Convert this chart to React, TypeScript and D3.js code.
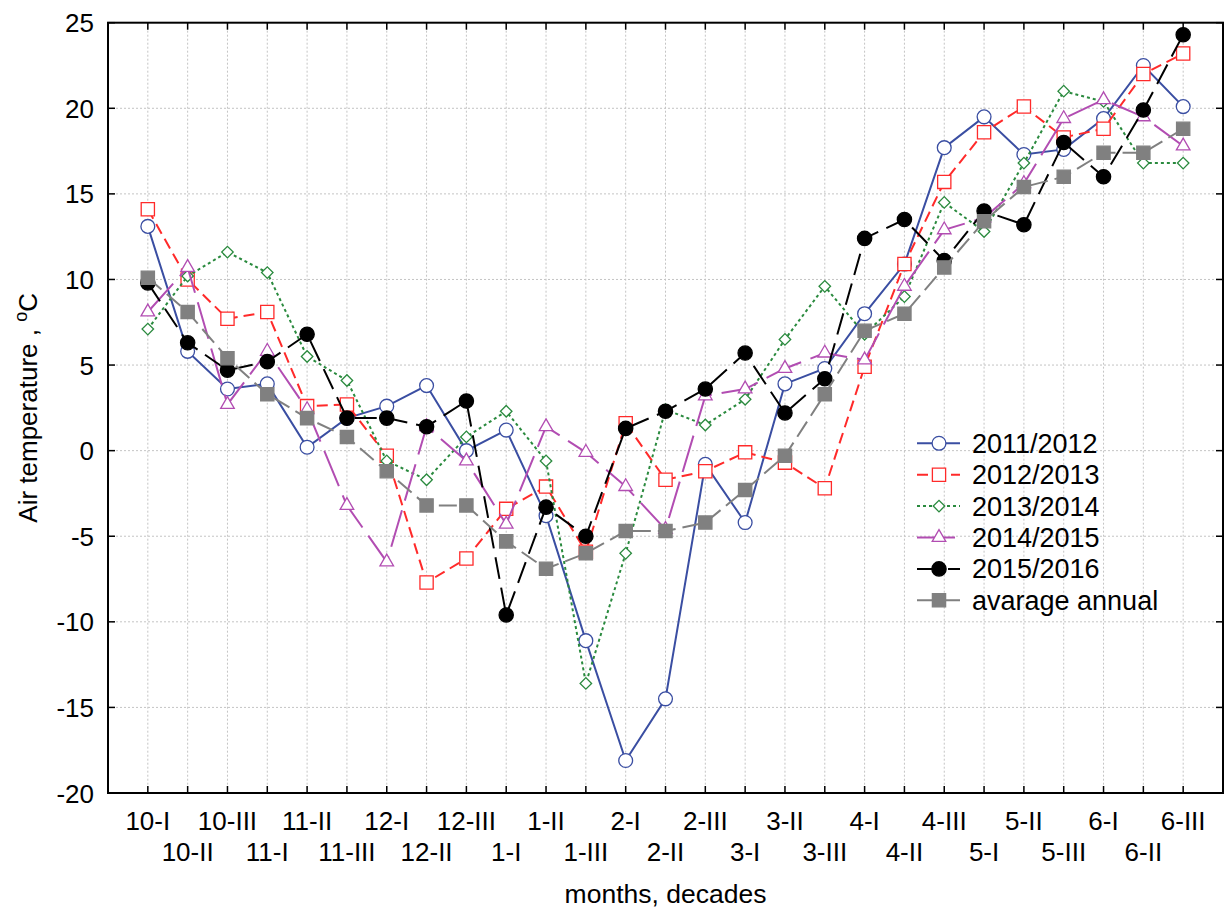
import React, { useEffect, useRef } from 'react';
import * as d3 from 'd3';

const decades = [
    "10-I", "10-II", "10-III", "11-I", "11-II", "11-III", "12-I", "12-II", "12-III",
    "1-I", "1-II", "1-III", "2-I", "2-II", "2-III", "3-I", "3-II", "3-III",
    "4-I", "4-II", "4-III", "5-I", "5-II", "5-III", "6-I", "6-II", "6-III",
];
const yTicks = [-20, -15, -10, -5, 0, 5, 10, 15, 20, 25];

const t2011 = [13.1, 5.8, 3.6, 3.9, 0.2, 1.9, 2.6, 3.8, 0.0, 1.2, -3.8, -11.1, -18.1, -14.5, -0.8, -4.2, 3.9, 4.8, 8.0, 10.9, 17.7, 19.5, 17.3, 17.6, 19.4, 22.5, 20.1];
const t2012 = [14.1, 10.0, 7.7, 8.1, 2.6, 2.7, -0.3, -7.7, -6.3, -3.4, -2.1, -5.9, 1.6, -1.7, -1.2, -0.1, -0.7, -2.2, 4.9, 10.9, 15.7, 18.6, 20.1, 18.3, 18.8, 22.0, 23.2];
const t2013 = [7.1, 10.2, 11.6, 10.4, 5.5, 4.1, -0.6, -1.7, 0.8, 2.3, -0.6, -13.6, -6.0, 2.4, 1.5, 3.0, 6.5, 9.6, 6.8, 9.0, 14.5, 12.8, 16.8, 21.0, 20.4, 16.8, 16.8];
const t2014 = [8.1, 10.7, 2.7, 5.8, 2.4, -3.2, -6.5, 1.4, -0.6, -4.3, 1.4, -0.1, -2.1, -4.6, 3.2, 3.6, 4.8, 5.7, 5.3, 9.6, 12.9, 13.6, 15.6, 19.4, 20.5, 19.5, 17.8];
const t2015 = [9.8, 6.3, 4.7, 5.2, 6.8, 1.9, 1.9, 1.4, 2.9, -9.6, -3.3, -5.0, 1.3, 2.3, 3.6, 5.7, 2.2, 4.2, 12.4, 13.5, 11.1, 14.0, 13.2, 18.0, 16.0, 19.9, 24.3];
const tAverage = [10.1, 8.1, 5.4, 3.3, 1.9, 0.8, -1.2, -3.2, -3.2, -5.3, -6.9, -6.0, -4.7, -4.7, -4.2, -2.3, -0.3, 3.3, 7.0, 8.0, 10.7, 13.4, 15.4, 16.0, 17.4, 17.4, 18.8];

interface seriesStyle {
    name: string,
    values: Array<number>,
    color: string,
    dash: string,
    symbol: d3.SymbolType,
    size: number,
    rotate: number,
    filled: boolean,
}

const series: Array<seriesStyle> = [
    { name: "2011/2012", values: t2011, color: "#3a4ea2", dash: "none", symbol: d3.symbolCircle, size: 150, rotate: 0, filled: false },
    { name: "2012/2013", values: t2012, color: "#ff2a2a", dash: "11,6", symbol: d3.symbolSquare, size: 175, rotate: 0, filled: false },
    { name: "2013/2014", values: t2013, color: "#2a8a3e", dash: "3,3", symbol: d3.symbolSquare, size: 66, rotate: 45, filled: false },
    { name: "2014/2015", values: t2014, color: "#b24db2", dash: "38,10", symbol: d3.symbolTriangle, size: 80, rotate: 0, filled: false },
    { name: "2015/2016", values: t2015, color: "#000000", dash: "22,9", symbol: d3.symbolCircle, size: 160, rotate: 0, filled: true },
    { name: "avarage annual", values: tAverage, color: "#808080", dash: "18,7", symbol: d3.symbolSquare, size: 175, rotate: 0, filled: true },
];

const width = 1232;
const height = 909;
const left = 108;
const right = 1223;
const top = 22.7;
const bottom = 793;
const font = "'Liberation Sans', Arial, sans-serif";

export default function App() {
    const ref = useRef(null);

    useEffect(() => {
        const svg = d3.select(ref.current);
        svg.selectAll("*").remove();

        const x = d3.scaleLinear().domain([0, decades.length + 1]).range([left, right]);
        const y = d3.scaleLinear().domain([-20, 25]).range([bottom, top]);

        // grid
        const grid = svg.append("g")
            .attr("stroke", "#c4c4c4")
            .attr("stroke-width", 1)
            .attr("stroke-dasharray", "2,2");
        grid.selectAll("line.vx")
            .data(decades)
            .enter()
            .append("line")
              .attr("x1", (_d, i) => x(i + 1))
              .attr("x2", (_d, i) => x(i + 1))
              .attr("y1", top)
              .attr("y2", bottom);
        grid.selectAll("line.hy")
            .data(yTicks.slice(1, -1))
            .enter()
            .append("line")
              .attr("x1", left)
              .attr("x2", right)
              .attr("y1", d => y(d))
              .attr("y2", d => y(d));

        // ticks pointing inward
        const ticks = svg.append("g").attr("stroke", "#000").attr("stroke-width", 1.5);
        decades.forEach((_d, i) => {
            ticks.append("line").attr("x1", x(i + 1)).attr("x2", x(i + 1)).attr("y1", top).attr("y2", top + 7);
            ticks.append("line").attr("x1", x(i + 1)).attr("x2", x(i + 1)).attr("y1", bottom).attr("y2", bottom - 7);
        });
        yTicks.forEach(t => {
            ticks.append("line").attr("x1", left).attr("x2", left + 7).attr("y1", y(t)).attr("y2", y(t));
            ticks.append("line").attr("x1", right).attr("x2", right - 7).attr("y1", y(t)).attr("y2", y(t));
        });

        // series
        const line = d3.line<number>()
            .x((_d, i) => x(i + 1))
            .y(d => y(d));

        series.forEach(s => {
            svg.append("path")
                .attr("fill", "none")
                .attr("stroke", s.color)
                .attr("stroke-width", 2)
                .attr("stroke-dasharray", s.dash)
                .attr("d", line(s.values));

            const sym = d3.symbol().type(s.symbol).size(s.size);
            svg.selectAll(null)
                .data(s.values)
                .enter()
                .append("path")
                  .attr("d", sym())
                  .attr("transform", (d, i) => `translate(${x(i + 1)},${y(d)}) rotate(${s.rotate})`)
                  .attr("fill", s.filled ? s.color : "#fff")
                  .attr("stroke", s.color)
                  .attr("stroke-width", 1.3);
        });

        // frame
        svg.append("rect")
            .attr("x", left)
            .attr("y", top)
            .attr("width", right - left)
            .attr("height", bottom - top)
            .attr("fill", "none")
            .attr("stroke", "#000")
            .attr("stroke-width", 2);

        // tick labels
        svg.append("g")
            .attr("font-family", font)
            .attr("font-size", 26)
            .attr("text-anchor", "end")
            .selectAll("text")
            .data(yTicks)
            .enter()
            .append("text")
              .attr("x", left - 14)
              .attr("y", d => y(d) + 9.5)
              .text(d => d);

        svg.append("g")
            .attr("font-family", font)
            .attr("font-size", 26)
            .attr("text-anchor", "middle")
            .selectAll("text")
            .data(decades)
            .enter()
            .append("text")
              .attr("x", (_d, i) => x(i + 1))
              .attr("y", (_d, i) => i % 2 === 0 ? 830 : 861)
              .text(d => d);

        // axis titles
        svg.append("text")
            .attr("font-family", font)
            .attr("font-size", 26.5)
            .attr("text-anchor", "middle")
            .attr("x", (left + right) / 2)
            .attr("y", 903)
            .text("months, decades");

        const yTitle = svg.append("text")
            .attr("font-family", font)
            .attr("font-size", 26)
            .attr("text-anchor", "middle")
            .attr("transform", `translate(37, ${(top + bottom) / 2}) rotate(-90)`);
        yTitle.append("tspan").text("Air temperature , ");
        yTitle.append("tspan").attr("font-size", 18).attr("dy", -10).text("o");
        yTitle.append("tspan").attr("dy", 10).text("C");

        // legend
        const legend = svg.append("g").attr("font-family", font).attr("font-size", 27);
        series.forEach((s, i) => {
            const ly = 443.3 + i * 31.4;
            legend.append("line")
                .attr("x1", 917)
                .attr("x2", 960)
                .attr("y1", ly)
                .attr("y2", ly)
                .attr("stroke", s.color)
                .attr("stroke-width", 2)
                .attr("stroke-dasharray", s.dash);
            legend.append("path")
                .attr("d", d3.symbol().type(s.symbol).size(s.size)())
                .attr("transform", `translate(939,${ly}) rotate(${s.rotate})`)
                .attr("fill", s.filled ? s.color : "#fff")
                .attr("stroke", s.color)
                .attr("stroke-width", 1.3);
            legend.append("text")
                .attr("x", 972)
                .attr("y", ly + 9.5)
                .text(s.name);
        });
    }, []);

    return (
        <svg ref={ref} width={width} height={height} viewBox={`0 0 ${width} ${height}`}
            style={{ position: 'absolute', left: 0, top: 0, background: '#fff' }}>
        </svg>
    );
}
